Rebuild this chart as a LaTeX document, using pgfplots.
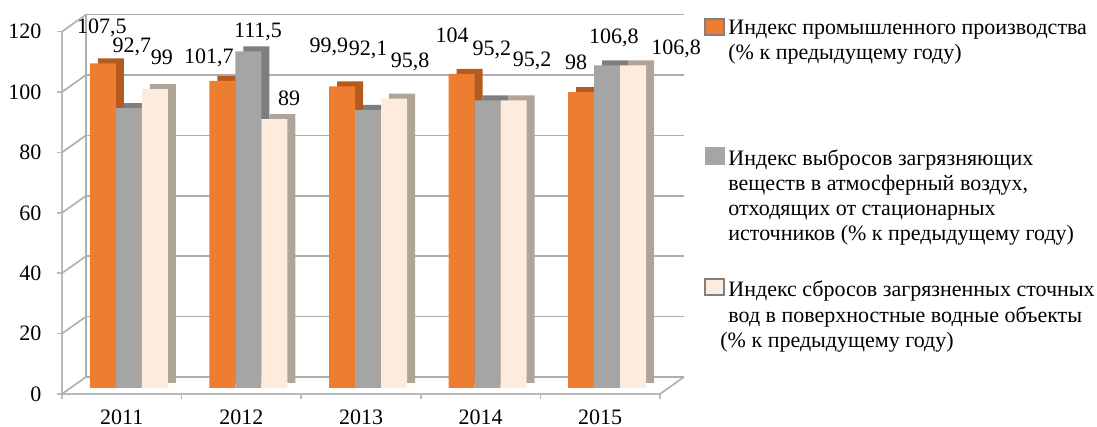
\documentclass[border=0pt]{standalone}
\usepackage{pgfplots}
\pgfplotsset{compat=1.18}
\usepackage{fontspec}
\setmainfont{Liberation Serif}
\definecolor{orF}{HTML}{ED7D31}
\definecolor{orS}{HTML}{B45A1E}
\definecolor{grF}{HTML}{A5A5A5}
\definecolor{grS}{HTML}{7E7E7E}
\definecolor{peF}{HTML}{FDEBDD}
\definecolor{peS}{HTML}{B0A498}
\definecolor{axc}{HTML}{BABABA}
\definecolor{gdc}{HTML}{AEAEAE}
\definecolor{mkb}{HTML}{808080}
\pgfplotstableread{
x ind emis disch
0 107.5 92.7 99
1 101.7 111.5 89
2 99.9 92.1 95.8
3 104 95.2 95.2
4 98 106.8 106.8
}\datatab
\pgfplotstableread{
x y lab
-0.166 121.2 107,5
0.085 114.9 92,7
0.336 111.6 99
0.729 111.3 101,7
1.139 119.9 111,5
1.398 98.0 89
1.732 114.9 99,9
2.059 113.9 92,1
2.410 109.9 95,8
2.761 118.9 104
3.095 113.9 95,2
3.430 110.3 95,2
3.798 109.9 98
4.115 117.9 106,8
4.634 114.2 106,8
}\labtab
\newcommand{\fs}{\fontsize{11}{13}\selectfont}
\begin{document}
\fs
\begin{tikzpicture}
\useasboundingbox (0,0) rectangle (548.5pt,213.5pt);
\begin{axis}[
  at={(31pt,16.5pt)}, anchor=south west,
  scale only axis, width=299pt, height=181.2pt,
  xmin=-0.5, xmax=4.5, ymin=0, ymax=120,
  xtick={-0.5,0.5,1.5,2.5,3.5,4.5},
  x tick label as interval,
  xticklabels={2011,2012,2013,2014,2015},
  ytick={0,20,...,120},
  axis x line*=bottom, axis y line*=left,
  axis line style={draw=axc, line width=0.8pt, -},
  tick style={draw=axc, line width=0.8pt},
  tick align=outside, major tick length=2.5pt,
  ymajorgrids,
  major grid style={draw=gdc, line width=0.8pt, xshift=12pt, yshift=8.5pt},
  clip=false,
  /pgf/number format/assume math mode=true,
  tick label style={font=\fs},
  yticklabel style={anchor=east, xshift=-4pt},
  xticklabel style={yshift=-1.5pt},
]
\pgfplotsinvokeforeach{0,20,...,120}{
  \draw[gdc, line width=0.8pt] (axis cs:-0.5,#1) -- ++(12pt,8.5pt);
}
\draw[gdc, line width=0.8pt] ([shift={(12pt,8.5pt)}]axis cs:-0.5,0) -- ([shift={(12pt,8.5pt)}]axis cs:-0.5,120);
\draw[gdc, line width=0.8pt] (axis cs:4.5,0) -- ++(12pt,8.5pt);

\addplot[ybar, bar width=13pt, bar shift=-5.5pt, fill=orS, draw=none, yshift=5.5pt] table[x=x, y=ind] {\datatab};
\addplot[ybar, bar width=13pt, bar shift=-9.5pt, fill=orF, draw=none, yshift=3pt] table[x=x, y=ind] {\datatab};
\addplot[ybar, bar width=13pt, bar shift=7.5pt, fill=grS, draw=none, yshift=5.5pt] table[x=x, y=emis] {\datatab};
\addplot[ybar, bar width=13pt, bar shift=3.5pt, fill=grF, draw=none, yshift=3pt] table[x=x, y=emis] {\datatab};
\addplot[ybar, bar width=13pt, bar shift=20.5pt, fill=peS, draw=none, yshift=5.5pt] table[x=x, y=disch] {\datatab};
\addplot[ybar, bar width=13pt, bar shift=16.5pt, fill=peF, draw=none, yshift=3pt] table[x=x, y=disch] {\datatab};

\addplot[only marks, mark=none, nodes near coords, point meta=explicit symbolic,
  every node near coord/.append style={anchor=center, font=\fs, inner sep=0pt}]
  table[x=x, y=y, meta=lab] {\labtab};
\end{axis}

% legend
\draw[mkb, line width=1.2pt, fill=orF] (352.5pt,196pt) rectangle (362pt,204pt);
\fill[grF] (352.5pt,131pt) rectangle (362.5pt,140pt);
\draw[mkb, line width=1.2pt, fill=peF] (352.5pt,66pt) rectangle (362pt,74pt);
\begin{scope}[every node/.style={anchor=base west, inner sep=0pt, font=\fs}]
\node at (364pt,196pt) {Индекс промышленного производства};
\node at (364pt,183.5pt) {(\% к предыдущему году)};
\node at (364pt,130.5pt) {Индекс выбросов загрязняющих};
\node at (364pt,118pt) {веществ в атмосферный воздух,};
\node at (364pt,105.5pt) {отходящих от стационарных};
\node at (364pt,93pt) {источников (\% к предыдущему году)};
\node at (364pt,65pt) {Индекс сбросов загрязненных сточных};
\node at (364pt,52pt) {вод в поверхностные водные объекты};
\node at (360pt,39.5pt) {(\% к предыдущему году)};
\end{scope}
\end{tikzpicture}
\end{document}
